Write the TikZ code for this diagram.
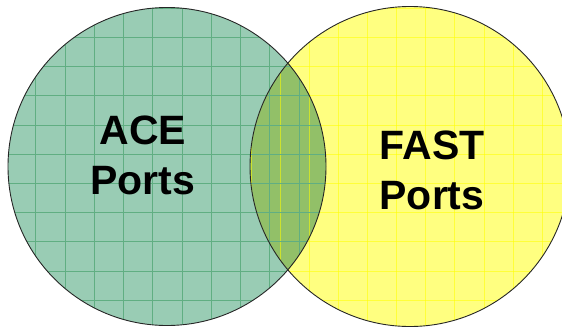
\documentclass[tikz,border=0pt]{standalone}
\usepackage{fontspec}
\setmainfont{Liberation Sans}
\usetikzlibrary{positioning}

\definecolor{acefill}{RGB}{153,204,180}
\definecolor{acegrid}{RGB}{96,174,130}
\definecolor{fastfill}{RGB}{255,255,128}
\definecolor{fastgrid}{RGB}{255,255,0}
\definecolor{lensfill}{RGB}{146,192,104}

\begin{document}
\begin{tikzpicture}[
    x=1pt, y=-1pt,
    gridline/.style={line width=0.6pt},
    rim/.style={draw=black!85, line width=0.9pt},
    lbl/.style={font=\fontsize{41}{50}\selectfont\bfseries, align=center, inner sep=0pt, text=black}
]
\useasboundingbox (0,0) rectangle (562,327);
\clip (0,0) rectangle (562,327);
\coordinate (acec) at (167,166.5);
\coordinate (fastc) at (410,166.5);
% circles
\fill[acefill] (acec) circle[radius=159pt];
\fill[fastfill] (fastc) circle[radius=160pt];
\begin{scope}
  \clip (acec) circle[radius=159pt];
  \fill[lensfill] (fastc) circle[radius=160pt];
\end{scope}
% grids
\begin{scope}
  \clip (fastc) circle[radius=160pt];
  \foreach \i in {0,...,11} {
    \draw[gridline, fastgrid, opacity=0.55] (250+\i*29.1+1,0) -- (250+\i*29.1+1,327);
  }
  \foreach \j in {0,...,11} {
    \draw[gridline, fastgrid, opacity=0.55] (240,8+\j*29.2) -- (562,8+\j*29.2);
  }
\end{scope}
\begin{scope}
  \clip (acec) circle[radius=159pt];
  \foreach \i in {0,...,11} {
    \draw[gridline, acegrid] (6.5+\i*29.25,0) -- (6.5+\i*29.25,327);
  }
  \foreach \j in {0,...,11} {
    \draw[gridline, acegrid] (0,8+\j*29.2) -- (330,8+\j*29.2);
  }
\end{scope}
\draw[rim] (acec) circle[radius=159pt];
\draw[rim] (fastc) circle[radius=160pt];
% labels
\node[lbl] (ace) at (143,155) {ACE\\Ports};
\node[lbl] (fast) at (432,170) {FAST\\Ports};
\end{tikzpicture}
\end{document}
